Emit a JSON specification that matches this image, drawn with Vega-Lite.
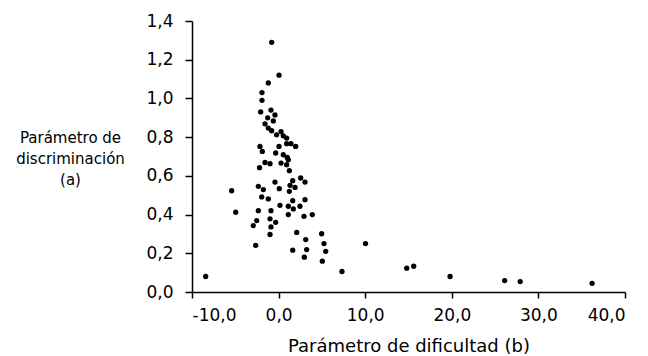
{
  "$schema": "https://vega.github.io/schema/vega-lite/v6.json",
  "autosize": "none",
  "width": 433,
  "height": 271,
  "padding": {"left": 192, "top": 21, "right": 23, "bottom": 64},
  "background": "white",
  "config": {"view": {"stroke": null}, "font": "DejaVu Sans"},
  "data": {"values": [
    {"b": -0.8, "a": 1.29}, {"b": 0.05, "a": 1.12}, {"b": -1.19, "a": 1.08}, {"b": -1.92, "a": 1.03},
    {"b": -1.92, "a": 0.99}, {"b": -2.07, "a": 0.93}, {"b": -0.88, "a": 0.94}, {"b": -0.42, "a": 0.915},
    {"b": -1.26, "a": 0.9}, {"b": -0.61, "a": 0.884}, {"b": -1.57, "a": 0.869}, {"b": -1.19, "a": 0.847},
    {"b": -0.8, "a": 0.833}, {"b": 0.28, "a": 0.829}, {"b": -0.23, "a": 0.812}, {"b": 0.54, "a": 0.807},
    {"b": 0.93, "a": 0.795}, {"b": -2.15, "a": 0.752}, {"b": -1.88, "a": 0.726}, {"b": 0.05, "a": 0.752},
    {"b": 0.93, "a": 0.766}, {"b": 1.43, "a": 0.766}, {"b": 1.97, "a": 0.752}, {"b": -0.34, "a": 0.718},
    {"b": 0.54, "a": 0.709}, {"b": 1.0, "a": 0.695}, {"b": 1.12, "a": 0.683}, {"b": -1.57, "a": 0.669},
    {"b": -0.99, "a": 0.663}, {"b": 0.28, "a": 0.666}, {"b": 0.93, "a": 0.658}, {"b": -2.2, "a": 0.642},
    {"b": 1.24, "a": 0.627}, {"b": -0.42, "a": 0.568}, {"b": 0.08, "a": 0.534}, {"b": 1.63, "a": 0.575},
    {"b": 2.55, "a": 0.589}, {"b": 3.05, "a": 0.568}, {"b": 1.32, "a": 0.551}, {"b": 1.9, "a": 0.54},
    {"b": 1.24, "a": 0.52}, {"b": 1.63, "a": 0.472}, {"b": 3.05, "a": 0.477}, {"b": -2.34, "a": 0.546},
    {"b": -1.76, "a": 0.529}, {"b": -5.42, "a": 0.523}, {"b": -1.95, "a": 0.491}, {"b": -1.19, "a": 0.481},
    {"b": 0.16, "a": 0.448}, {"b": 1.12, "a": 0.443}, {"b": 1.7, "a": 0.429}, {"b": 2.47, "a": 0.443},
    {"b": -2.34, "a": 0.42}, {"b": -0.88, "a": 0.42}, {"b": -4.95, "a": 0.412}, {"b": 1.12, "a": 0.4},
    {"b": 2.93, "a": 0.391}, {"b": 3.89, "a": 0.4}, {"b": -2.53, "a": 0.369}, {"b": -0.99, "a": 0.378},
    {"b": -0.34, "a": 0.36}, {"b": -2.92, "a": 0.343}, {"b": -0.88, "a": 0.336}, {"b": -0.99, "a": 0.297},
    {"b": 2.09, "a": 0.308}, {"b": 4.97, "a": 0.301}, {"b": 3.13, "a": 0.271}, {"b": 5.24, "a": 0.25},
    {"b": -2.65, "a": 0.241}, {"b": 1.63, "a": 0.216}, {"b": 3.24, "a": 0.219}, {"b": 5.44, "a": 0.21},
    {"b": 2.97, "a": 0.18}, {"b": 5.05, "a": 0.159}, {"b": -8.42, "a": 0.08}, {"b": 10.04, "a": 0.25},
    {"b": 7.32, "a": 0.106}, {"b": 14.8, "a": 0.123}, {"b": 15.6, "a": 0.133}, {"b": 19.8, "a": 0.08},
    {"b": 26.1, "a": 0.059}, {"b": 27.9, "a": 0.054}, {"b": 36.2, "a": 0.045}
  ]},
  "mark": {"type": "circle", "color": "black", "opacity": 1, "size": 28},
  "encoding": {
    "x": {
      "field": "b", "type": "quantitative",
      "scale": {"domain": [-10, 40], "nice": false, "zero": false},
      "axis": {
        "values": [-10, 0, 10, 20, 30, 40],
        "labelExpr": "replace(replace(format(datum.value, '.1f'), '.', ','), '\u2212', '-')",
        "grid": false, "domainColor": "black", "domainWidth": 1.5,
        "tickColor": "black", "tickWidth": 1.5, "tickSize": 6,
        "labelFont": "DejaVu Sans", "labelFontSize": 17, "labelColor": "black", "labelPadding": 9,
        "title": "Parámetro de dificultad (b)", "titleFont": "DejaVu Sans", "titleFontSize": 18,
        "titleFontWeight": "normal", "titleColor": "black", "titlePadding": 14
      }
    },
    "y": {
      "field": "a", "type": "quantitative",
      "scale": {"domain": [0, 1.4], "nice": false},
      "axis": {
        "values": [0, 0.2, 0.4, 0.6, 0.8, 1.0, 1.2, 1.4],
        "labelExpr": "replace(format(datum.value, '.1f'), '.', ',')",
        "grid": false, "domainColor": "black", "domainWidth": 1.5,
        "tickColor": "black", "tickWidth": 1.5, "tickSize": 7,
        "labelFont": "DejaVu Sans", "labelFontSize": 17, "labelColor": "black", "labelPadding": 12,
        "title": ["Parámetro de", "discriminación", "(a)"],
        "titleFont": "DejaVu Sans", "titleFontSize": 15, "titleFontWeight": "normal", "titleColor": "black",
        "titleAngle": 0, "titleAlign": "center", "titleBaseline": "middle",
        "titleX": -122, "titleY": 116, "titleLineHeight": 21
      }
    }
  }
}
